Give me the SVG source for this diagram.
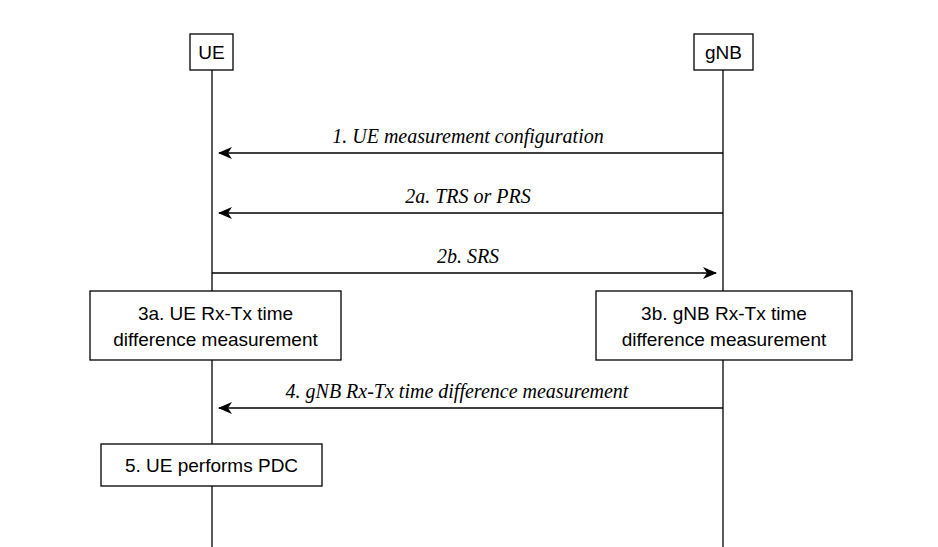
<svg xmlns="http://www.w3.org/2000/svg" width="938" height="547" viewBox="0 0 938 547">
<style>
.b{fill:#fff;stroke:#000;stroke-width:1.3}
.l{stroke:#000;stroke-width:1.3;fill:none}
.t{font-family:"Liberation Sans",Arial,sans-serif;font-size:19px;text-anchor:middle;fill:#000}
.m{font-family:"Liberation Serif","Times New Roman",serif;font-style:italic;font-size:20px;text-anchor:middle;fill:#000}
</style>
<defs>
<marker id="a" viewBox="0 0 14 12" refX="13" refY="6" markerWidth="14" markerHeight="12" markerUnits="userSpaceOnUse" orient="auto">
<path d="M0,0 L14,6 L0,12 L4,6 Z" fill="#000"/>
</marker>
</defs>
<rect width="938" height="547" fill="#fff"/>
<g id="lifelines">
<line class="l" x1="212" y1="70" x2="212" y2="547"/>
<line class="l" x1="723" y1="70" x2="723" y2="547"/>
</g>
<g id="UE"><rect class="b" x="190" y="34" width="43" height="36"/><text class="t" x="211.5" y="59">UE</text></g>
<g id="gNB"><rect class="b" x="694" y="34" width="59" height="36"/><text class="t" x="723.5" y="59">gNB</text></g>
<g id="connectors">
<line class="l" x1="723" y1="153" x2="219" y2="153" marker-end="url(#a)"/>
<text class="m" x="468" y="143">1. UE measurement configuration</text>
<line class="l" x1="723" y1="213" x2="219" y2="213" marker-end="url(#a)"/>
<text class="m" x="468" y="203">2a. TRS or PRS</text>
<line class="l" x1="212" y1="273" x2="716" y2="273" marker-end="url(#a)"/>
<text class="m" x="468" y="263">2b. SRS</text>
<line class="l" x1="723" y1="408" x2="219" y2="408" marker-end="url(#a)"/>
<text class="m" x="457" y="398">4. gNB Rx-Tx time difference measurement</text>
</g>
<g id="n3a"><rect class="b" x="90" y="291" width="251" height="69"/><text class="t" x="215.5" y="320">3a. UE Rx-Tx time</text><text class="t" x="215.5" y="346">difference measurement</text></g>
<g id="n3b"><rect class="b" x="596" y="291" width="256" height="69"/><text class="t" x="724" y="320">3b. gNB Rx-Tx time</text><text class="t" x="724" y="346">difference measurement</text></g>
<g id="n5"><rect class="b" x="101" y="444" width="221" height="42"/><text class="t" x="211.5" y="472">5. UE performs PDC</text></g>
</svg>
